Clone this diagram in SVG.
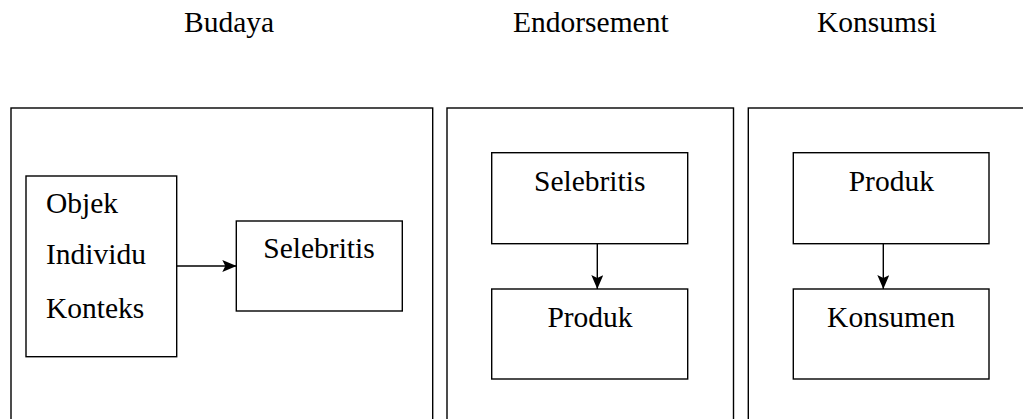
<svg xmlns="http://www.w3.org/2000/svg" width="1023" height="419" viewBox="0 0 1023 419">
<style>
.box{fill:none;stroke:#000;stroke-width:1.4}
text{font-family:'Liberation Serif','Times New Roman',Times,serif;font-size:29.5px;fill:#000}
.c{text-anchor:middle}
.edge{stroke:#000;stroke-width:1.4;fill:none}
</style>
<defs>
<marker id="ah" viewBox="0 0 14 12" refX="14" refY="6" markerWidth="14" markerHeight="12" markerUnits="userSpaceOnUse" orient="auto">
<path d="M0,0 L14,6 L0,12 L3,6 Z" fill="#000"/>
</marker>
</defs>
<rect width="1023" height="419" fill="#fff"/>
<g id="titles" font-family="Liberation Serif, serif">
<text x="184" y="32">Budaya</text>
<text x="513" y="32">Endorsement</text>
<text x="817" y="32">Konsumsi</text>
</g>
<g id="panel-budaya">
<rect class="box" x="11" y="108" width="421.7" height="330"/>
</g>
<g id="panel-endorsement">
<rect class="box" x="447" y="108" width="286.5" height="330"/>
</g>
<g id="panel-konsumsi">
<rect class="box" x="748.3" y="108" width="300" height="330"/>
</g>
<g id="node-objek" font-family="Liberation Serif, serif">
<rect class="box" x="26" y="176" width="150.7" height="180.7"/>
<text x="46" y="212.7">Objek</text>
<text x="46" y="264">Individu</text>
<text x="46" y="317.7">Konteks</text>
</g>
<g id="node-selebritis1">
<rect class="box" x="236.3" y="221" width="166" height="90"/>
<text class="c" x="319" y="258.3">Selebritis</text>
</g>
<g id="node-selebritis2">
<rect class="box" x="491.7" y="152.7" width="196" height="91"/>
<text class="c" x="589.7" y="191">Selebritis</text>
</g>
<g id="node-produk1">
<rect class="box" x="491.7" y="289" width="196" height="90"/>
<text class="c" x="590" y="326.7">Produk</text>
</g>
<g id="node-produk2">
<rect class="box" x="793.3" y="152.7" width="195.7" height="91"/>
<text class="c" x="891.3" y="191">Produk</text>
</g>
<g id="node-konsumen">
<rect class="box" x="793.3" y="289" width="195.7" height="90"/>
<text class="c" x="891" y="326.7">Konsumen</text>
</g>
<g id="connectors">
<line class="edge" x1="176.7" y1="266" x2="236.3" y2="266" marker-end="url(#ah)"/>
<line class="edge" x1="597.3" y1="243.7" x2="597.3" y2="289" marker-end="url(#ah)"/>
<line class="edge" x1="883.3" y1="243.7" x2="883.3" y2="289" marker-end="url(#ah)"/>
</g>
</svg>
